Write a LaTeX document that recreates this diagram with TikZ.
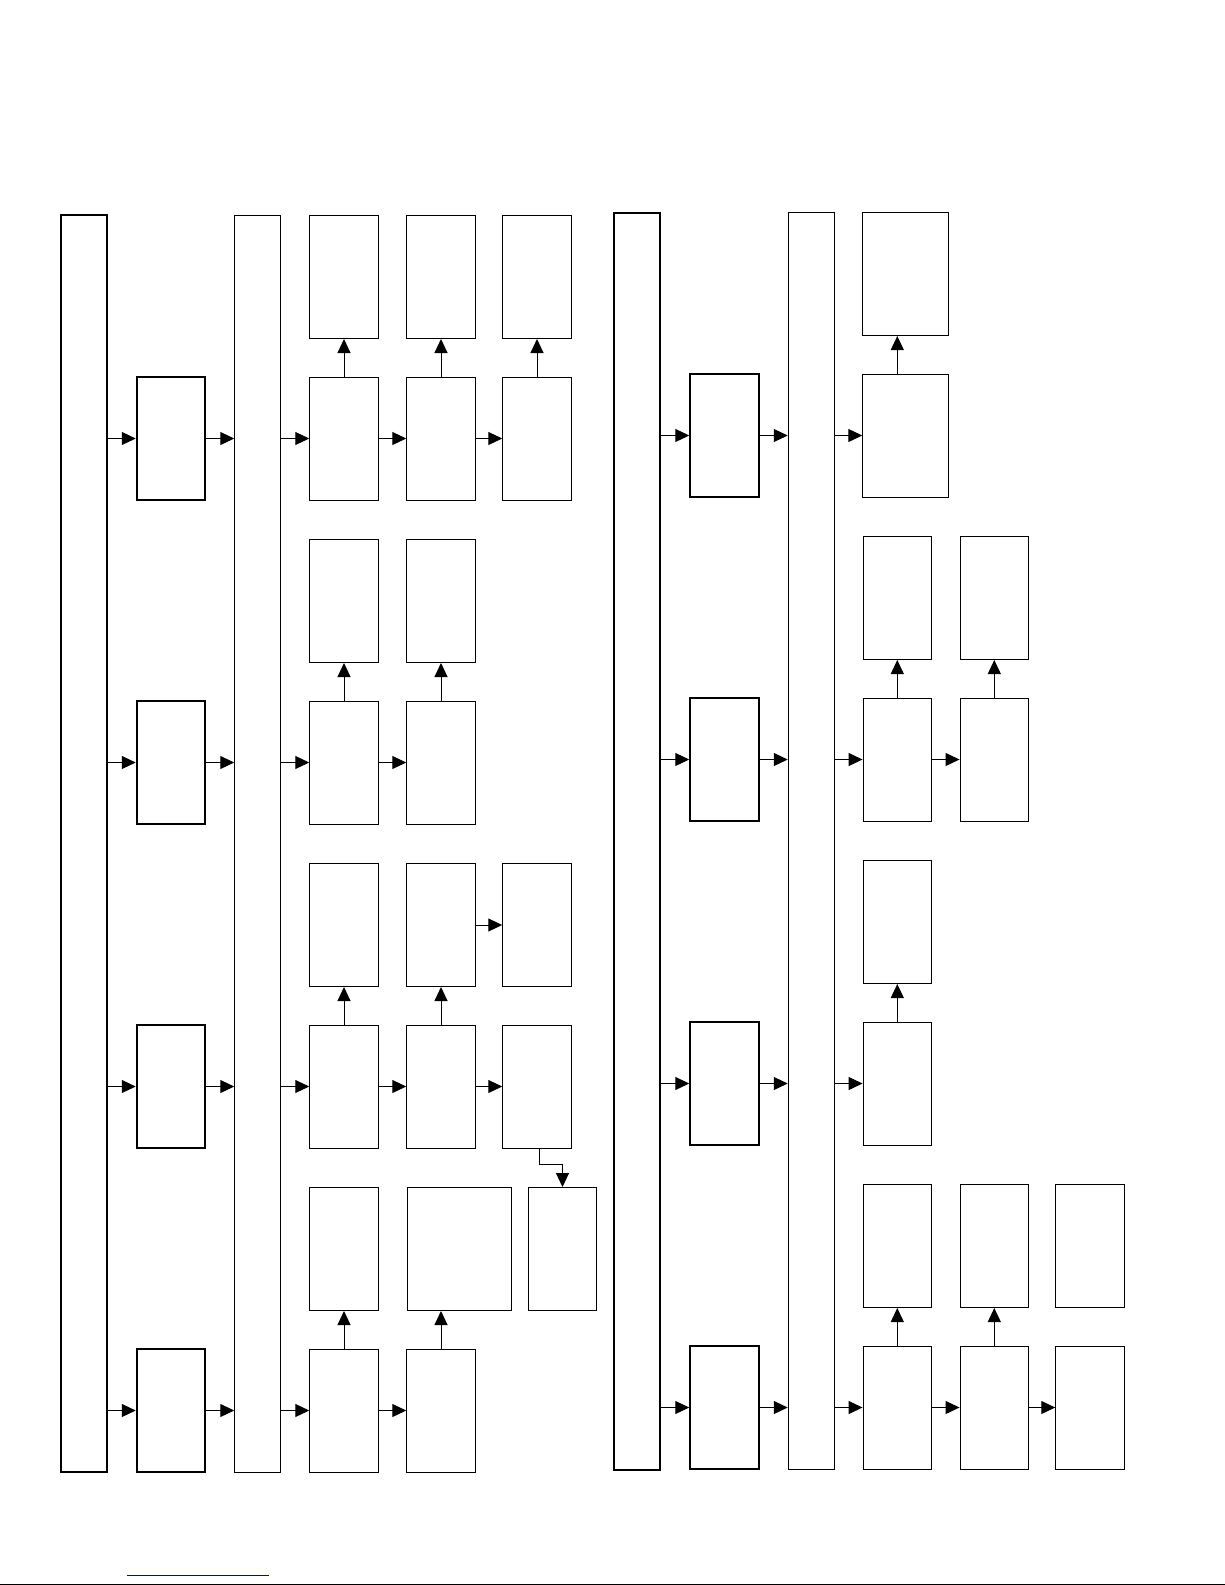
\documentclass[tikz,border=0pt]{standalone}
\usepackage{tikz}
\usetikzlibrary{arrows.meta,positioning}
\definecolor{linkblue}{RGB}{0,0,204}
\tikzset{
  >=Triangle,
  tall/.style={rectangle, draw, line width=1pt, minimum width=23pt, minimum height=628.5pt, inner sep=0pt},
  bus/.style={rectangle, draw, line width=0.5pt, minimum width=23pt, minimum height=628.5pt, inner sep=0pt},
  mod/.style={rectangle, draw, line width=1pt, minimum width=34.25pt, minimum height=61.5pt, inner sep=0pt},
  blk/.style={rectangle, draw, line width=0.5pt, minimum width=34.25pt, minimum height=61.5pt, inner sep=0pt},
  wide/.style={blk, minimum width=43pt},
  wider/.style={blk, minimum width=52pt},
  tr/.style={-{Triangle[length=7pt,width=6.5pt]}, line width=0.5pt}
}
\begin{document}
\begin{tikzpicture}[x=0.5pt, y=-0.5pt]
\useasboundingbox (0,0) rectangle (1225,1585);

% left half
\node (L) [tall] at (83.75,843.5) {};
\node (Lbus) [bus] at (257.75,843.5) {};
\node (Lm1) [mod] at (171,438.5) {};
\node (Lm2) [mod] at (171,762.5) {};
\node (Lm3) [mod] at (171,1086.5) {};
\node (Lm4) [mod] at (171,1410.5) {};

% row 1
\node (La1) [blk] at (344,438.5) {};
\node (Lb1) [blk] at (441,438.5) {};
\node (Lc1) [blk] at (537,438.5) {};
\node (La1u) [blk] at (344,277) {};
\node (Lb1u) [blk] at (441,277) {};
\node (Lc1u) [blk] at (537,277) {};
% row 2
\node (La2) [blk] at (344,762.5) {};
\node (Lb2) [blk] at (441,762.5) {};
\node (La2u) [blk] at (344,601) {};
\node (Lb2u) [blk] at (441,601) {};
% row 3
\node (La3) [blk] at (344,1086.5) {};
\node (Lb3) [blk] at (441,1086.5) {};
\node (Lc3) [blk] at (537,1086.5) {};
\node (La3u) [blk] at (344,925) {};
\node (Lb3u) [blk] at (441,925) {};
\node (Lc3u) [blk] at (537,925) {};
% row 4
\node (La4) [blk] at (344,1410.5) {};
\node (Lb4) [blk] at (441,1410.5) {};
\node (La4u) [blk] at (344,1249) {};
\node (Lb4u) [wider] at (459,1249) {};
\node (Ld4) [blk] at (562.5,1249) {};

\draw[tr] (L.east |- Lm1.west) -- (Lm1.west);
\draw[tr] (L.east |- Lm2.west) -- (Lm2.west);
\draw[tr] (L.east |- Lm3.west) -- (Lm3.west);
\draw[tr] (L.east |- Lm4.west) -- (Lm4.west);
\draw[tr] (Lm1.east) -- (Lbus.west |- Lm1.east);
\draw[tr] (Lm2.east) -- (Lbus.west |- Lm2.east);
\draw[tr] (Lm3.east) -- (Lbus.west |- Lm3.east);
\draw[tr] (Lm4.east) -- (Lbus.west |- Lm4.east);
\draw[tr] (Lbus.east |- La1.west) -- (La1.west);
\draw[tr] (Lbus.east |- La2.west) -- (La2.west);
\draw[tr] (Lbus.east |- La3.west) -- (La3.west);
\draw[tr] (Lbus.east |- La4.west) -- (La4.west);

\draw[tr] (La1) -- (Lb1);
\draw[tr] (Lb1) -- (Lc1);
\draw[tr] (La1) -- (La1u);
\draw[tr] (Lb1) -- (Lb1u);
\draw[tr] (Lc1) -- (Lc1u);

\draw[tr] (La2) -- (Lb2);
\draw[tr] (La2) -- (La2u);
\draw[tr] (Lb2) -- (Lb2u);

\draw[tr] (La3) -- (Lb3);
\draw[tr] (Lb3) -- (Lc3);
\draw[tr] (La3) -- (La3u);
\draw[tr] (Lb3) -- (Lb3u);
\draw[tr] (Lb3u) -- (Lc3u);
\draw[tr] ([xshift=1pt]Lc3.south) -- ++(0,16) -| (Ld4.north);

\draw[tr] (La4) -- (Lb4);
\draw[tr] (La4) -- (La4u);
\draw[tr] (Lb4.north) -- (Lb4.north |- Lb4u.south);

% right half
\node (R) [tall] at (637,841) {};
\node (Rbus) [bus] at (811.25,841) {};
\node (Rm1) [mod] at (724.5,435.5) {};
\node (Rm2) [mod] at (724.5,759.5) {};
\node (Rm3) [mod] at (724.5,1083.5) {};
\node (Rm4) [mod] at (724.5,1407.5) {};

% row 1
\node (Ra1) [wide] at (905.8,435.5) {};
\node (Ra1u) [wide] at (905.8,274) {};
% row 2
\node (Ra2) [blk] at (897.3,759.5) {};
\node (Rb2) [blk] at (994.3,759.5) {};
\node (Ra2u) [blk] at (897.3,598) {};
\node (Rb2u) [blk] at (994.3,598) {};
% row 3
\node (Ra3) [blk] at (897.3,1083.5) {};
\node (Ra3u) [blk] at (897.3,922) {};
% row 4
\node (Ra4) [blk] at (897.3,1407.5) {};
\node (Rb4) [blk] at (994.3,1407.5) {};
\node (Rc4) [blk] at (1090,1407.5) {};
\node (Ra4u) [blk] at (897.3,1246) {};
\node (Rb4u) [blk] at (994.3,1246) {};
\node (Rc4u) [blk] at (1090,1246) {};

\draw[tr] (R.east |- Rm1.west) -- (Rm1.west);
\draw[tr] (R.east |- Rm2.west) -- (Rm2.west);
\draw[tr] (R.east |- Rm3.west) -- (Rm3.west);
\draw[tr] (R.east |- Rm4.west) -- (Rm4.west);
\draw[tr] (Rm1.east) -- (Rbus.west |- Rm1.east);
\draw[tr] (Rm2.east) -- (Rbus.west |- Rm2.east);
\draw[tr] (Rm3.east) -- (Rbus.west |- Rm3.east);
\draw[tr] (Rm4.east) -- (Rbus.west |- Rm4.east);
\draw[tr] (Rbus.east |- Ra1.west) -- (Ra1.west);
\draw[tr] (Rbus.east |- Ra2.west) -- (Ra2.west);
\draw[tr] (Rbus.east |- Ra3.west) -- (Ra3.west);
\draw[tr] (Rbus.east |- Ra4.west) -- (Ra4.west);

\draw[tr] (Ra1.north -| Ra2) -- (Ra1u.south -| Ra2);
\draw[tr] (Ra2) -- (Rb2);
\draw[tr] (Ra2) -- (Ra2u);
\draw[tr] (Rb2) -- (Rb2u);
\draw[tr] (Ra3) -- (Ra3u);
\draw[tr] (Ra4) -- (Rb4);
\draw[tr] (Rb4) -- (Rc4);
\draw[tr] (Ra4) -- (Ra4u);
\draw[tr] (Rb4) -- (Rb4u);

% page foot
\draw[linkblue, line width=0.5pt] (127,1575) -- (269,1575);
\draw[line width=0.5pt] (0,1584.5) -- (1225,1584.5);

\end{tikzpicture}
\end{document}
